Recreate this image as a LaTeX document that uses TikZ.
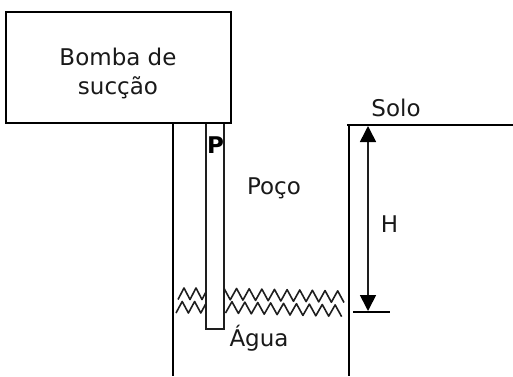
\documentclass[tikz,border=0pt]{standalone}
\usepackage{fontspec}
\setmainfont{DejaVu Sans}
\usetikzlibrary{positioning,arrows.meta}
\definecolor{inkgray}{RGB}{30, 30, 30}
\newcommand{\wavyline}[5]{\draw[waterline] (#1,#2) \foreach \i in {1,...,#4}{ -- ++(#3,{(mod(\i,2)==1 ? -1 : 1)*11.5+#5}) };}
\tikzset{
    wall/.style={line width=2.1pt, black},
    waterline/.style={line width=1.6pt, inkgray, line join=round},
    label/.style={font=\fontsize{23pt}{29pt}\selectfont, inner sep=0pt, align=center, text=black!90},
    height/.style={line width=1.6pt, inkgray, {Triangle[length=16pt,width=16pt,black]}-{Triangle[length=16pt,width=16pt,black]}},
}

\begin{document}
\begin{tikzpicture}[x=1pt, y=-1pt]
    \useasboundingbox (0,0) rectangle (513,376);
    % poco
    \coordinate (wellTL) at (173,123);
    \coordinate (wellBL) at (173,376);
    \coordinate (wellTR) at (349,125);
    \coordinate (wellBR) at (349,376);
    \coordinate (soloE) at (513,125);
    \coordinate (soloW) at (347,125);
    \draw[wall] (wellTL) -- (wellBL);
    \draw[wall] (wellTR) -- (wellBR);
    \draw[wall] (soloW) -- (soloE);
    % agua
    \wavyline{178}{299.5}{6}{6}{0}
    \wavyline{176}{313}{6.2}{6}{0}
    \wavyline{217.6}{299.5}{6.32}{20}{0.15}
    \wavyline{225.5}{313}{6.45}{18}{0.2}
    % tubo
    \coordinate (pipeTL) at (206,123);
    \coordinate (pipeTR) at (224,123);
    \coordinate (pipeBL) at (206,329);
    \coordinate (pipeBR) at (224,329);
    \draw[line width=1.6pt, inkgray, fill=white] (pipeTL) -- (pipeBL) -- (pipeBR) -- (pipeTR);
    \node[label, font=\fontsize{23pt}{29pt}\selectfont\bfseries, text=black] (ptext) at (215.5,145) {P};
    % bomba
    \node[draw, wall, minimum width=225pt, minimum height=111pt, inner sep=0pt] (bomba) at (118.5,67.5) {};
    \node[label] (bombatext) at (118,73) {Bomba de\\sucção};
    % altura
    \coordinate (hTop) at (368,126);
    \coordinate (hBot) at (368,311);
    \coordinate (nivelW) at (353,312);
    \coordinate (nivelE) at (390,312);
    \draw[height] (hTop) -- (hBot);
    \draw[line width=1.6pt, black] (nivelW) -- (nivelE);
    \node[label] (htext) at (389.5,224) {H};
    \node[label] (solotext) at (396,108) {Solo};
    \node[label] (pocotext) at (274,188) {Poço};
    \node[label] (aguatext) at (259,338) {Água};
\end{tikzpicture}
\end{document}
